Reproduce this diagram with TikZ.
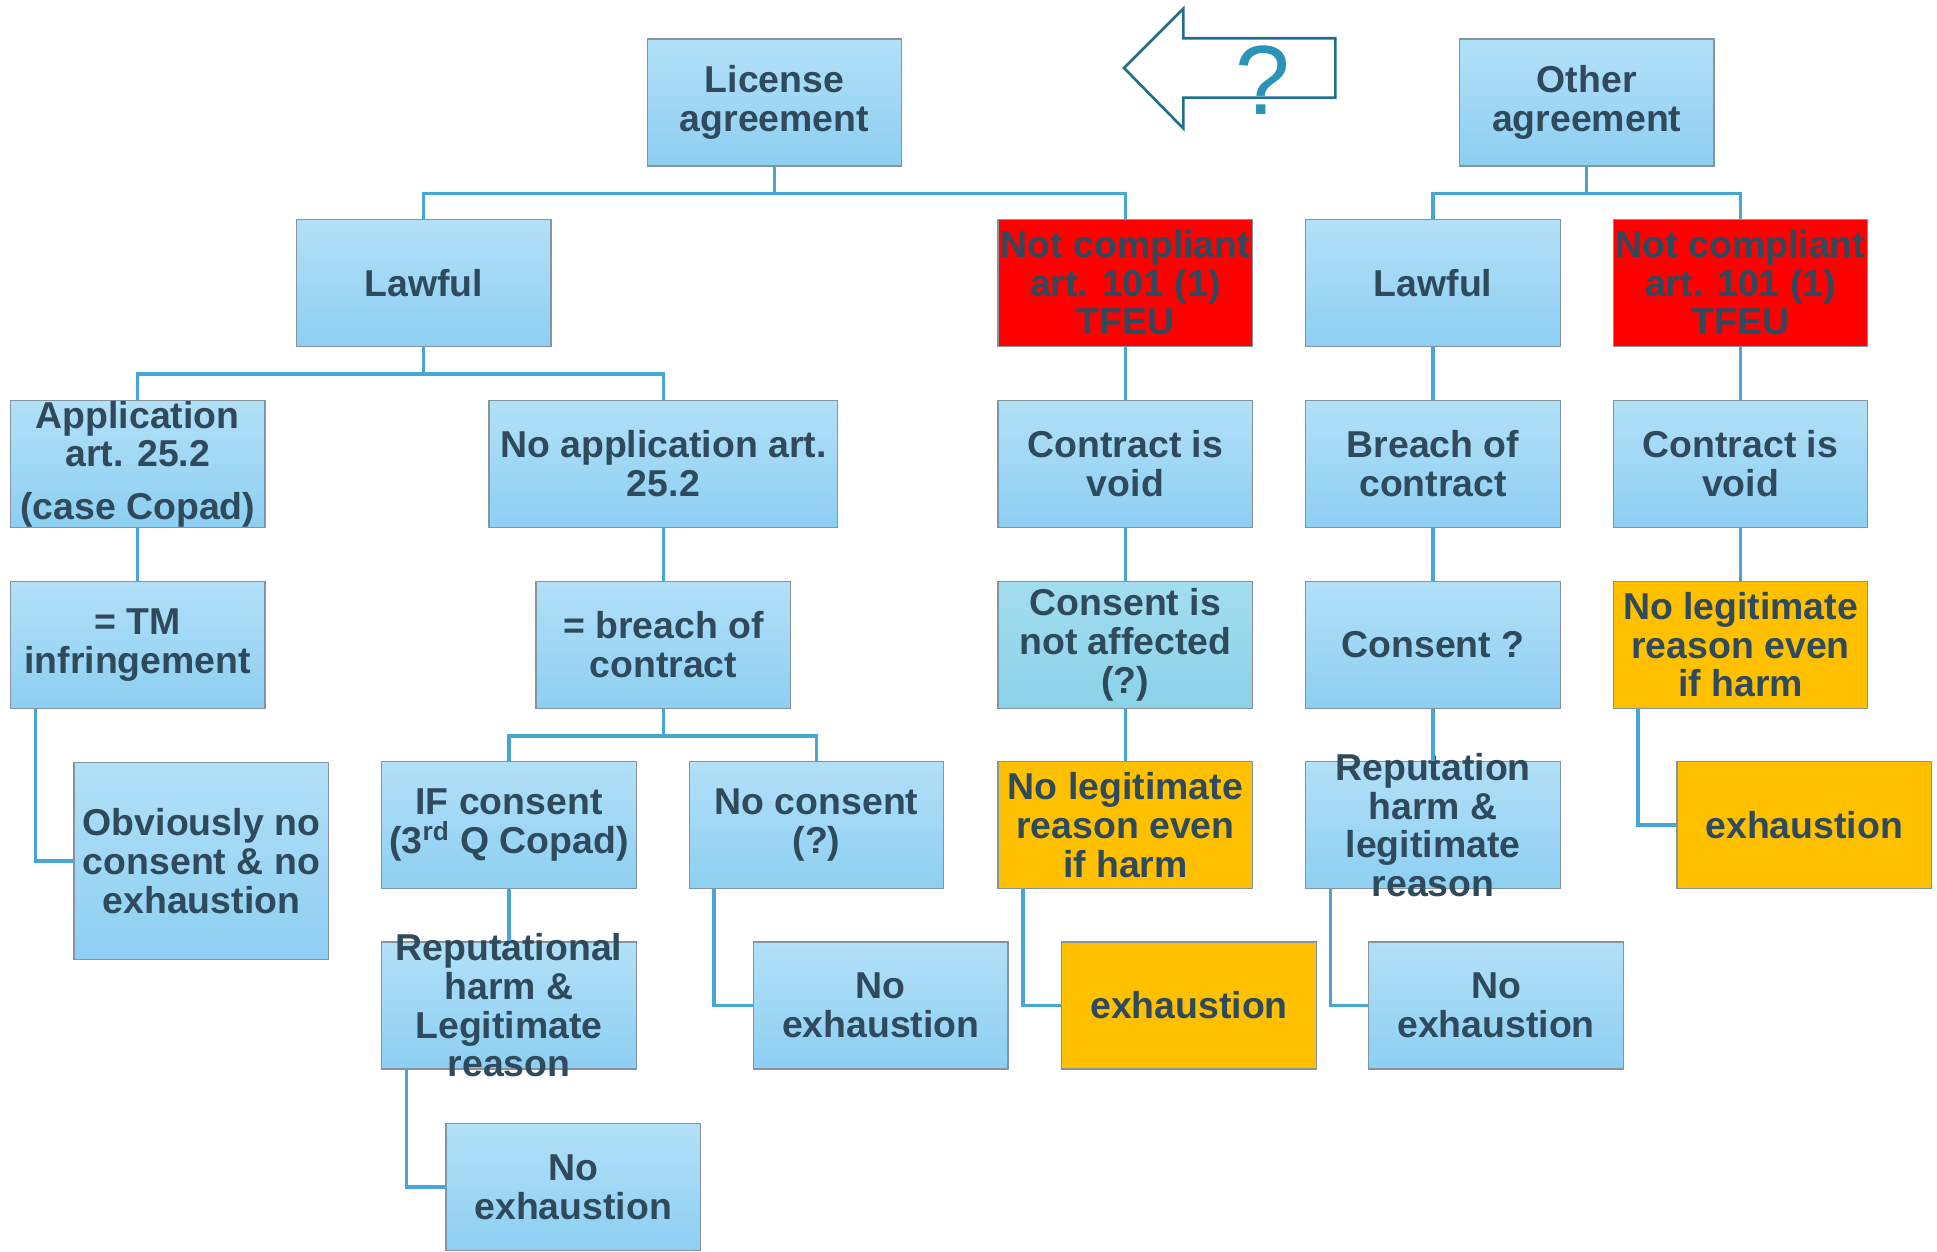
\documentclass[tikz,border=0pt]{standalone}
\usepackage{fontspec}
\setmainfont{Liberation Sans}
\usetikzlibrary{calc}

\definecolor{boxtop}{HTML}{B2E0F7}
\definecolor{boxbot}{HTML}{8DCFF2}
\definecolor{boxline}{HTML}{8595A0}
\definecolor{txtcol}{HTML}{2E4A5C}
\definecolor{linkcol}{HTML}{47A6D6}
\definecolor{arrowcol}{HTML}{1E6E8C}
\definecolor{qcol}{HTML}{2A93B8}
\definecolor{goldcol}{HTML}{FFC000}
\definecolor{tealtop}{HTML}{A3DDEF}
\definecolor{tealbot}{HTML}{8BD2E8}

\tikzset{
  cell/.style={draw=boxline, line width=0.8pt, minimum width=5.09cm, minimum height=2.54cm,
    inner sep=0pt, align=center, text=txtcol, font=\fontsize{21.3}{22}\selectfont\bfseries},
  bluebox/.style={cell, top color=boxtop, bottom color=boxbot},
  tealbox/.style={cell, top color=tealtop, bottom color=tealbot},
  redcell/.style={cell, fill=red},
  goldcell/.style={cell, fill=goldcol},
  txt/.style={align=center, text=txtcol, font=\fontsize{21.3}{22}\selectfont\bfseries},
  link/.style={draw=linkcol, line width=2pt}
}

\begin{document}
\begin{tikzpicture}[x=0.02cm, y=-0.02cm]
    \useasboundingbox (0,0) rectangle (1937,1251);

    % Left tree - license agreement
    \node[bluebox] (lic) at (774.5,102.5) {License\\agreement};
    \node[bluebox] (law1) at (423.7,282.9) {Lawful};
    \node[redcell] (nc1) at (1125.4,282.9) {Not compliant\\art. 101 (1)\\TFEU};
    \node[bluebox] (app) at (137.7,463.9) {Application\\art. 25.2\\[7.7pt](case Copad)};
    \node[bluebox, minimum width=6.97cm] (noapp) at (663.4,463.9) {No application art.\\25.2};
    \node[bluebox] (void1) at (1125.4,463.9) {Contract is\\void};
    \node[bluebox] (tm) at (137.7,644.8) {= TM\\infringement};
    \node[bluebox] (brc) at (663.4,644.8) {= breach of\\contract};
    \node[tealbox] (cna) at (1125.4,644.8) {Consent is\\not affected\\(?)};
    \node[bluebox, minimum height=3.95cm] (obv) at (201.4,861) {Obviously no\\consent \& no\\exhaustion};
    \node[bluebox] (ifc) at (509,825.2) {IF consent\\(3\textsuperscript{rd} Q Copad)};
    \node[bluebox] (noc) at (816.5,825.2) {No consent\\(?)};
    \node[goldcell] (nolg1) at (1125.4,825.2) {No legitimate\\reason even\\if harm};
    \node[bluebox] (rep1) at (509,1005.5) {};
    \node[txt] at (rep1) {Reputational\\harm \&\\Legitimate\\reason};
    \node[bluebox] (noex1) at (880.8,1005.5) {No\\exhaustion};
    \node[goldcell] (exh1) at (1189,1005.5) {exhaustion};
    \node[bluebox] (noex3) at (573.2,1187.1) {No\\exhaustion};

    % Right tree - other agreement
    \node[bluebox] (oth) at (1586.7,102.5) {Other\\agreement};
    \node[bluebox] (law2) at (1433,282.9) {Lawful};
    \node[redcell] (nc2) at (1740.5,282.9) {Not compliant\\art. 101 (1)\\TFEU};
    \node[bluebox] (brc2) at (1433,463.9) {Breach of\\contract};
    \node[bluebox] (void2) at (1740.5,463.9) {Contract is\\void};
    \node[bluebox] (cq) at (1433,644.8) {Consent ?};
    \node[goldcell] (nolg2) at (1740.5,644.8) {No legitimate\\reason even\\if harm};
    \node[bluebox] (rep2) at (1433,825.2) {};
    \node[txt] at (rep2) {Reputation\\harm \&\\legitimate\\reason};
    \node[goldcell] (exh2) at (1804.2,825.2) {exhaustion};
    \node[bluebox] (noex2) at (1496,1005.5) {No\\exhaustion};

    % Arrow with question mark
    \draw[arrowcol, line width=1.5pt, fill=white] (1124,68) -- (1183.4,8.6) -- (1183.4,38.3)
        -- (1335.4,38.3) -- (1335.4,97.6) -- (1183.4,97.6) -- (1183.4,128.5) -- cycle;
    \node[text=qcol, font=\fontsize{56}{56}\selectfont] (qmark) at (1263,80) {?};

    % Connectors
    \draw[link] (lic.south) -- ++(0,27) -| (law1.north);
    \draw[link] (lic.south) ++(0,27) -| (nc1.north);
    \draw[link] (law1.south) -- ++(0,27) -| (app.north);
    \draw[link] (law1.south) ++(0,27) -| (noapp.north);
    \draw[link] (app.south) -- (tm.north);
    \draw[link] ([xshift=0.51cm]tm.south west) |- (obv.west);
    \draw[link] (noapp.south) -- (brc.north);
    \draw[link] (brc.south) -- ++(0,27) -| (ifc.north);
    \draw[link] (brc.south) ++(0,27) -| (noc.north);
    \draw[link] (ifc.south) -- (rep1.north);
    \draw[link] ([xshift=0.51cm]rep1.south west) |- (noex3.west);
    \draw[link] ([xshift=0.51cm]noc.south west) |- (noex1.west);
    \draw[link] (nc1.south) -- (void1.north);
    \draw[link] (void1.south) -- (cna.north);
    \draw[link] (cna.south) -- (nolg1.north);
    \draw[link] ([xshift=0.51cm]nolg1.south west) |- (exh1.west);

    \draw[link] (oth.south) -- ++(0,27) -| (law2.north);
    \draw[link] (oth.south) ++(0,27) -| (nc2.north);
    \draw[link] (law2.south) -- (brc2.north);
    \draw[link] (brc2.south) -- (cq.north);
    \draw[link] (cq.south) -- (rep2.north);
    \draw[link] ([xshift=0.51cm]rep2.south west) |- (noex2.west);
    \draw[link] (nc2.south) -- (void2.north);
    \draw[link] (void2.south) -- (nolg2.north);
    \draw[link] ([xshift=0.51cm]nolg2.south west) |- (exh2.west);
\end{tikzpicture}
\end{document}
